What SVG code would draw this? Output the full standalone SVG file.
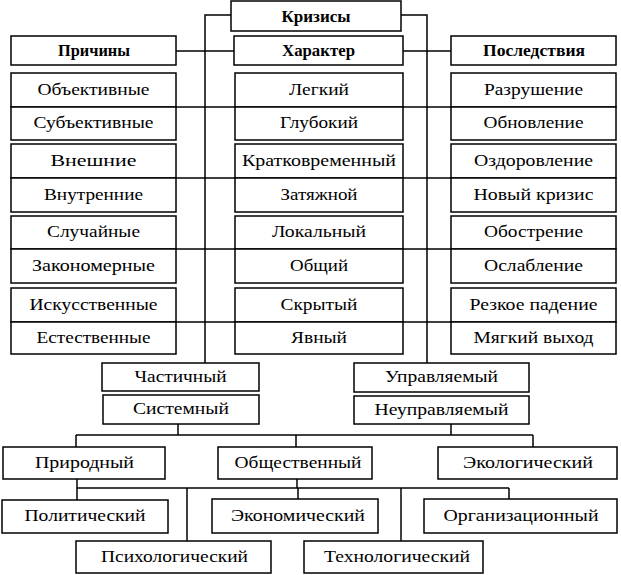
<svg xmlns="http://www.w3.org/2000/svg" width="621" height="575" viewBox="0 0 621 575">
<style>
rect{fill:#fff;stroke:#000;stroke-width:1.5}
.c path{fill:none;stroke:#000;stroke-width:1.5}
text{font-family:"Liberation Serif","DejaVu Serif","Times New Roman",serif;font-size:17px;fill:#000;text-anchor:middle}
.b{font-weight:bold}
</style>
<rect x="0" y="0" width="621" height="575" style="stroke:none"/>
<g class="c" id="connectors">
<path d="M231,15H205V363"/>
<path d="M401,15H427V363"/>
<path d="M176,51H234"/>
<path d="M403,51H451"/>
<path d="M11,107H616"/>
<path d="M11,178H616"/>
<path d="M11,249H616"/>
<path d="M11,322H616"/>
<path d="M178,424V435"/>
<path d="M451,424V435"/>
<path d="M76,435H533"/>
<path d="M76,435V447"/>
<path d="M296,435V447"/>
<path d="M533,435V447"/>
<path d="M77,479V500"/>
<path d="M297,479V488"/>
<path d="M77,488H509"/>
<path d="M187,488V541"/>
<path d="M298,488V499"/>
<path d="M401,488V541"/>
<path d="M509,488V499"/>
</g>
<g id="krizisy"><rect x="231" y="1" width="170" height="30"/><text class="b" x="316" y="21.5" textLength="69" lengthAdjust="spacingAndGlyphs">Кризисы</text></g>
<g id="prichiny"><rect x="11" y="36" width="165" height="29"/><text class="b" x="94" y="56" textLength="72" lengthAdjust="spacingAndGlyphs">Причины</text></g>
<g id="harakter"><rect x="234" y="36" width="169" height="29"/><text class="b" x="318.5" y="56" textLength="73" lengthAdjust="spacingAndGlyphs">Характер</text></g>
<g id="posledstviya"><rect x="451" y="36" width="165" height="29"/><text class="b" x="534" y="56" textLength="102" lengthAdjust="spacingAndGlyphs">Последствия</text></g>

<g id="obyektivnye"><rect x="11" y="73" width="165" height="34"/><text x="93.5" y="94.5" textLength="112" lengthAdjust="spacingAndGlyphs">Объективные</text></g>
<g id="subyektivnye"><rect x="11" y="107" width="165" height="33"/><text x="93.5" y="128" textLength="120" lengthAdjust="spacingAndGlyphs">Субъективные</text></g>
<g id="vneshnie"><rect x="11" y="144" width="165" height="34"/><text x="93.5" y="165.5" textLength="86" lengthAdjust="spacingAndGlyphs">Внешние</text></g>
<g id="vnutrennie"><rect x="11" y="178" width="165" height="34"/><text x="93.5" y="199.5" textLength="99" lengthAdjust="spacingAndGlyphs">Внутренние</text></g>
<g id="sluchainye"><rect x="11" y="216" width="165" height="33"/><text x="93.5" y="237" textLength="93" lengthAdjust="spacingAndGlyphs">Случайные</text></g>
<g id="zakonomernye"><rect x="11" y="249" width="165" height="34"/><text x="93.5" y="270.5" textLength="123" lengthAdjust="spacingAndGlyphs">Закономерные</text></g>
<g id="iskusstvennye"><rect x="11" y="288" width="165" height="34"/><text x="93.5" y="309.5" textLength="128" lengthAdjust="spacingAndGlyphs">Искусственные</text></g>
<g id="estestvennye"><rect x="11" y="322" width="165" height="32"/><text x="93.5" y="342.5" textLength="114" lengthAdjust="spacingAndGlyphs">Естественные</text></g>

<g id="legkiy"><rect x="235" y="73" width="168" height="34"/><text x="319" y="94.5" textLength="60" lengthAdjust="spacingAndGlyphs">Легкий</text></g>
<g id="glubokiy"><rect x="235" y="107" width="168" height="33"/><text x="319" y="128" textLength="78" lengthAdjust="spacingAndGlyphs">Глубокий</text></g>
<g id="kratkovremennyy"><rect x="235" y="144" width="168" height="34"/><text x="319" y="165.5" textLength="154" lengthAdjust="spacingAndGlyphs">Кратковременный</text></g>
<g id="zatyazhnoy"><rect x="235" y="178" width="168" height="34"/><text x="319" y="199.5" textLength="77" lengthAdjust="spacingAndGlyphs">Затяжной</text></g>
<g id="lokalnyy"><rect x="235" y="216" width="168" height="33"/><text x="319" y="237" textLength="94" lengthAdjust="spacingAndGlyphs">Локальный</text></g>
<g id="obshchiy"><rect x="235" y="249" width="168" height="34"/><text x="319" y="270.5" textLength="58" lengthAdjust="spacingAndGlyphs">Общий</text></g>
<g id="skrytyy"><rect x="235" y="288" width="168" height="34"/><text x="319" y="309.5" textLength="77" lengthAdjust="spacingAndGlyphs">Скрытый</text></g>
<g id="yavnyy"><rect x="235" y="322" width="168" height="32"/><text x="319" y="342.5" textLength="56" lengthAdjust="spacingAndGlyphs">Явный</text></g>

<g id="razrushenie"><rect x="451" y="73" width="165" height="34"/><text x="533.5" y="94.5" textLength="99" lengthAdjust="spacingAndGlyphs">Разрушение</text></g>
<g id="obnovlenie"><rect x="451" y="107" width="165" height="33"/><text x="533.5" y="128" textLength="100" lengthAdjust="spacingAndGlyphs">Обновление</text></g>
<g id="ozdorovlenie"><rect x="451" y="144" width="165" height="34"/><text x="533.5" y="165.5" textLength="119" lengthAdjust="spacingAndGlyphs">Оздоровление</text></g>
<g id="novyy-krizis"><rect x="451" y="178" width="165" height="34"/><text x="533.5" y="199.5" textLength="120" lengthAdjust="spacingAndGlyphs">Новый кризис</text></g>
<g id="obostrenie"><rect x="451" y="216" width="165" height="33"/><text x="533.5" y="237" textLength="99" lengthAdjust="spacingAndGlyphs">Обострение</text></g>
<g id="oslablenie"><rect x="451" y="249" width="165" height="34"/><text x="533.5" y="270.5" textLength="99" lengthAdjust="spacingAndGlyphs">Ослабление</text></g>
<g id="rezkoe-padenie"><rect x="451" y="288" width="165" height="34"/><text x="533.5" y="309.5" textLength="128" lengthAdjust="spacingAndGlyphs">Резкое падение</text></g>
<g id="myagkiy-vyhod"><rect x="451" y="322" width="165" height="32"/><text x="533.5" y="342.5" textLength="120" lengthAdjust="spacingAndGlyphs">Мягкий выход</text></g>

<g id="chastichnyy"><rect x="102" y="363" width="157" height="28"/><text x="180.5" y="382" textLength="92" lengthAdjust="spacingAndGlyphs">Частичный</text></g>
<g id="sistemnyy"><rect x="103" y="395" width="156" height="29"/><text x="181" y="414" textLength="96" lengthAdjust="spacingAndGlyphs">Системный</text></g>
<g id="upravlyaemyy"><rect x="354" y="363" width="175" height="29"/><text x="441.5" y="382" textLength="113" lengthAdjust="spacingAndGlyphs">Управляемый</text></g>
<g id="neupravlyaemyy"><rect x="354" y="396" width="175" height="28"/><text x="441.5" y="414.5" textLength="134" lengthAdjust="spacingAndGlyphs">Неуправляемый</text></g>

<g id="prirodnyy"><rect x="3" y="447" width="162" height="32"/><text x="84.5" y="467.5" textLength="99" lengthAdjust="spacingAndGlyphs">Природный</text></g>
<g id="obshchestvennyy"><rect x="218" y="447" width="154" height="32"/><text x="298" y="467.5" textLength="127" lengthAdjust="spacingAndGlyphs">Общественный</text></g>
<g id="ekologicheskiy"><rect x="438" y="447" width="179" height="32"/><text x="528" y="467.5" textLength="130" lengthAdjust="spacingAndGlyphs">Экологический</text></g>

<g id="politicheskiy"><rect x="2" y="500" width="166" height="33"/><text x="85" y="521" textLength="121" lengthAdjust="spacingAndGlyphs">Политический</text></g>
<g id="ekonomicheskiy"><rect x="212" y="499" width="166" height="34"/><text x="298" y="520.5" textLength="134" lengthAdjust="spacingAndGlyphs">Экономический</text></g>
<g id="organizatsionnyy"><rect x="424" y="499" width="193" height="34"/><text x="521" y="520.5" textLength="155" lengthAdjust="spacingAndGlyphs">Организационный</text></g>

<g id="psihologicheskiy"><rect x="76" y="541" width="195" height="32"/><text x="174.5" y="561.5" textLength="147" lengthAdjust="spacingAndGlyphs">Психологический</text></g>
<g id="tehnologicheskiy"><rect x="304" y="541" width="179" height="32"/><text x="397" y="561.5" textLength="146" lengthAdjust="spacingAndGlyphs">Технологический</text></g>
</svg>
